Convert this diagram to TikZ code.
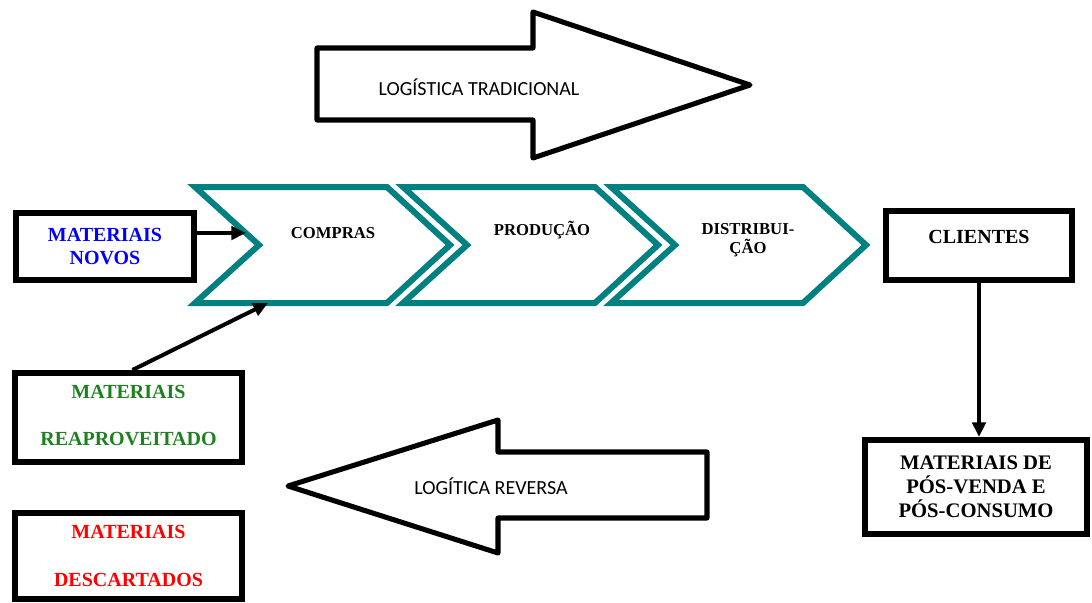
\documentclass[tikz,border=0pt]{standalone}
\usepackage{fontspec}
\setmainfont{Liberation Serif}
\newfontfamily\calibri{Carlito}
\usetikzlibrary{arrows.meta}
\definecolor{tealline}{RGB}{0,128,128}
\definecolor{greentext}{RGB}{30,128,30}

\begin{document}
\begin{tikzpicture}[
    x=0.75pt, y=-0.75pt,
    box/.style={rectangle, draw, line width=4.5pt, inner sep=0pt, align=center, font=\bfseries\fontsize{15}{17}\selectfont},
    chevron/.style={draw=tealline, line width=4.5pt, line join=miter},
    bigarrow/.style={draw, line width=3.8pt, line join=round},
    stage/.style={align=center, font=\bfseries\fontsize{12.5}{15}\selectfont},
    flowtext/.style={font=\calibri\fontsize{15}{18}\selectfont},
    link/.style={-{Triangle[length=11pt,width=10pt]}, line width=3pt}
]
\useasboundingbox (0,0) rectangle (1092,603);

% Big flow arrows
\draw[bigarrow] (317,48) -- (533,48) -- (533,12) -- (750,85) -- (533,158) -- (533,120) -- (317,120) -- cycle;
\draw[bigarrow] (288,486) -- (498,420) -- (498,452) -- (707,452) -- (707,518) -- (498,518) -- (498,553) -- cycle;
\node[flowtext] (tradicional) at (479,87) {LOGÍSTICA TRADICIONAL};
\node[flowtext] (reversa) at (491,486) {LOGÍTICA REVERSA};

% Supply chain stages
\foreach \xo in {195,403,611}
  \draw[chevron] (\xo,187) -- (\xo+192,187) -- (\xo+255,245) -- (\xo+192,303) -- (\xo,303) -- (\xo+64,245) -- cycle;
\node[stage] (compras) at (333,233) {COMPRAS};
\node[stage] (producao) at (542,230) {PRODUÇÃO};
\node[stage, font=\bfseries\fontsize{12.5}{14}\selectfont] (distribuicao) at (748,240) {DISTRIBUI-\\ÇÃO};
\coordinate (comprasin) at (246,233);
\coordinate (comprasbase) at (268,303);

% Materials
\node[box, text=blue, minimum width=134pt, minimum height=50.3pt] (novos) at (105,246.5) {MATERIAIS\\NOVOS};
\node[box, text=greentext, minimum width=170pt, minimum height=66.8pt] (reaproveitado) at (128.5,417.5) {\mbox{}\\[-10pt]MATERIAIS\\[18pt]REAPROVEITADO};
\node[box, text=red, minimum width=170pt, minimum height=64.5pt] (descartados) at (128.5,556) {MATERIAIS\\[19pt]DESCARTADOS};

% Customers
\node[box, minimum width=139.5pt, minimum height=51.8pt] (clientes) at (979,245.5) {CLIENTES\\[-4pt]\mbox{}};
\node[box, minimum width=166.5pt, minimum height=70.5pt, font=\bfseries\fontsize{15.5}{18}\selectfont] (posvenda) at (976,487) {MATERIAIS DE\\PÓS-VENDA E\\PÓS-CONSUMO};

% Connections
\draw[link] (novos.east |- comprasin) -- (comprasin);
\draw[link] ([xshift=3pt]reaproveitado.north) -- (comprasbase);
\draw[link] (clientes.south) -- (clientes.south |- posvenda.north);

\end{tikzpicture}
\end{document}
